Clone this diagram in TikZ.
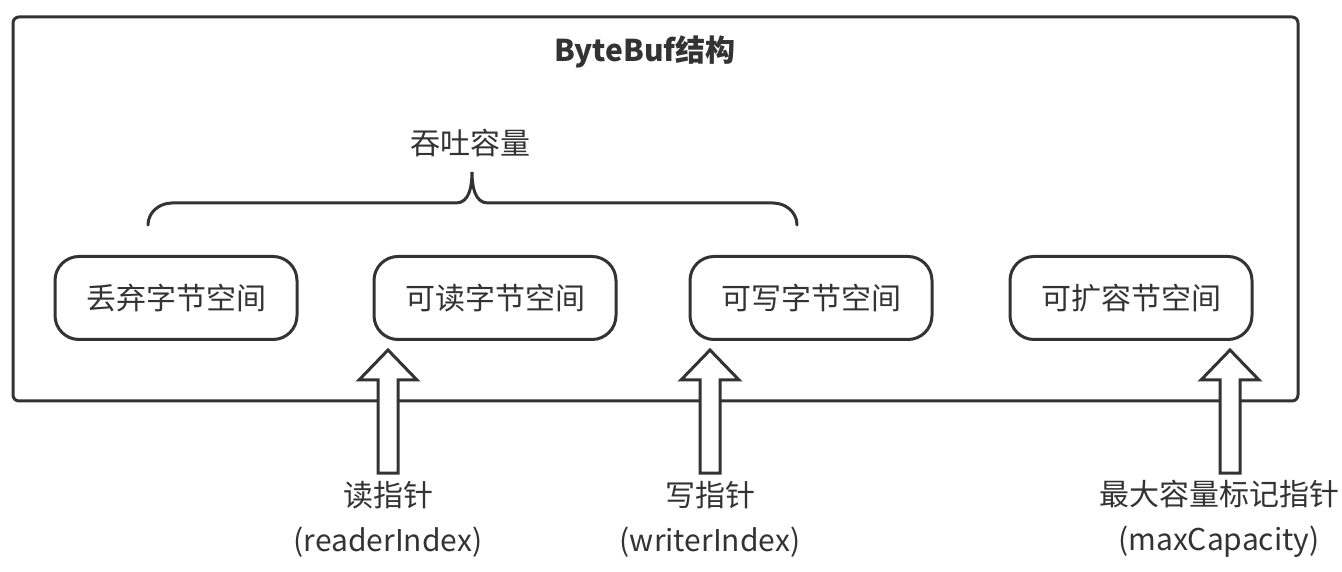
\documentclass[tikz,border=0pt]{standalone}
\usepackage{fontspec}
\setmainfont{Noto Sans CJK SC}
\usetikzlibrary{positioning}
\definecolor{BufInk}{HTML}{333333}
\tikzset{
  bufframe/.style={draw=BufInk,line width=3pt,rounded corners=6pt},
  space/.style={draw=BufInk,line width=3pt,rounded corners=24pt,fill=white,minimum width=242pt,minimum height=83pt,text=BufInk},
  ptr/.style={draw=BufInk,line width=3pt,fill=white,line join=miter},
  ptrlabel/.style={align=center,text=BufInk,inner sep=0pt},
  brc/.style={draw=BufInk,line width=3pt,line cap=round}
}

\begin{document}
\begin{tikzpicture}[x=1pt,y=1pt,node distance=74pt,font=\fontsize{30}{45}\selectfont]
  \useasboundingbox (0,0) rectangle (1342,571);
  \draw[bufframe] (13,170) rectangle (1298,554);
  \node[text=BufInk,font=\fontsize{30}{36}\selectfont\bfseries] (title) at (645,519) {ByteBuf结构};
  % buffer regions
  \node[space] (discard) at (176,273) {丢弃字节空间};
  \node[space,right=of discard] (readable) {可读字节空间};
  \node[space,right=71pt of readable] (writable) {可写字节空间};
  \node[space,right=75pt of writable] (expand) {可扩容节空间};
  % throughput brace
  \node[text=BufInk] (cap) at (470,428) {吞吐容量};
  \draw[brc] (148,346) to[out=90,in=180] (172,368) -- (456,368) to[out=0,in=-90] (472,399)
    to[out=-90,in=180] (488,368) -- (773,368) to[out=0,in=90] (797,346);
  % pointers
  \foreach \px in {388,710,1230}
    \draw[ptr] (\px-10,98) -- (\px-10,191) -- (\px-29,191) -- (\px,221) -- (\px+29,191) -- (\px+10,191) -- (\px+10,98) -- cycle;
  \node[ptrlabel] (rd) at (388,52) {读指针\\(readerIndex)};
  \node[ptrlabel] (wr) at (710,52) {写指针\\(writerIndex)};
  \node[ptrlabel] (mx) at (1219,52) {最大容量标记指针\\(maxCapacity)};
\end{tikzpicture}
\end{document}
